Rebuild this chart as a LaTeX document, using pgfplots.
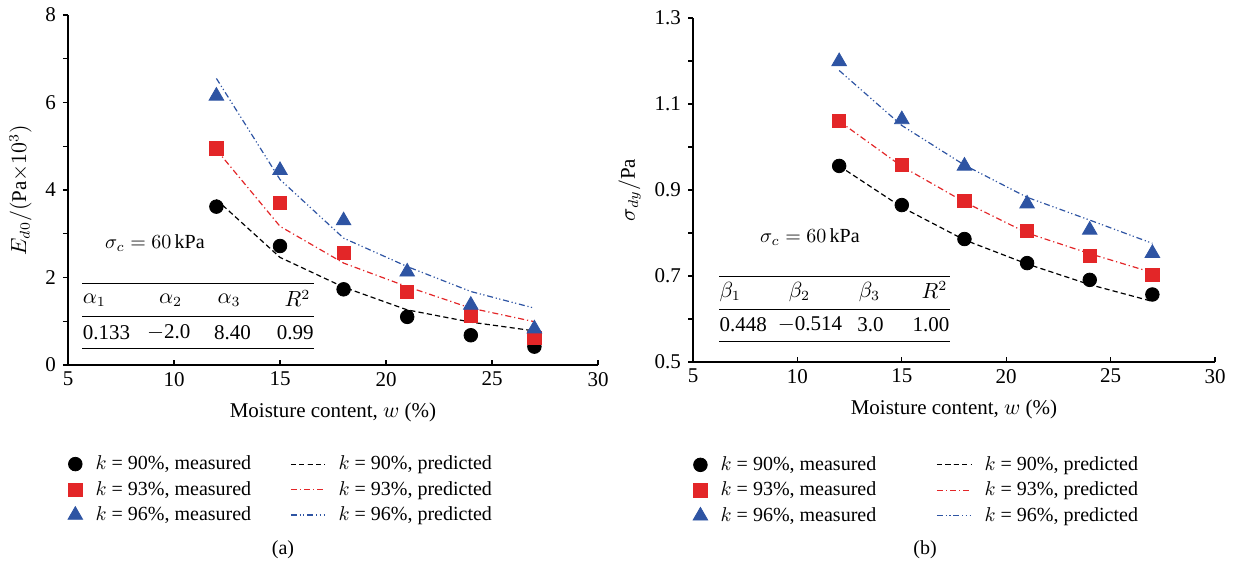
\documentclass[border=0pt]{standalone}
\usepackage{fontspec}
\setmainfont{Liberation Serif}
\usepackage{pgfplots}
\pgfplotsset{compat=1.18}
\definecolor{mred}{RGB}{227,38,40}
\definecolor{mblue}{RGB}{46,84,163}

\pgfplotsset{
  panel/.style={
    scale only axis,
    axis lines=left,
    axis line style={-, line width=0.7pt},
    xmin=5, xmax=30, xtick={5,10,...,30},
    xtick align=inside, ytick align=outside,
    major tick length=2.5pt, minor tick length=2.5pt,
    tick style={black, line width=0.6pt},
    /pgf/number format/assume math mode=true,
    tick label style={font=\fontsize{10.5}{12}\selectfont},
    label style={font=\fontsize{10.5}{12}\selectfont},
    xlabel={Moisture content, $w$ (\%)},
    xlabel style={yshift=-1.5pt},
    legend columns=3, transpose legend,
    legend cell align=left,
    legend style={draw=none, fill=none, font=\fontsize{10}{12.5}\selectfont,
      anchor=north west, row sep=0.3pt,
      /tikz/every odd column/.append style={column sep=4.5pt}},
    clip=false,
  },
  meas90/.style={only marks, mark=*, mark size=3.4pt, black},
  meas93/.style={only marks, mark=square*, mark size=3.3pt, mred},
  meas96/.style={only marks, mark=triangle*, mark size=4.2pt, mblue},
  pred90/.style={no marks, black, line width=0.6pt, dash pattern=on 2.6pt off 1.6pt},
  pred93/.style={no marks, mred, line width=0.6pt, dash pattern=on 3pt off 1.5pt on 0.6pt off 1.5pt},
  pred96/.style={no marks, mblue, line width=0.6pt, dash pattern=on 3pt off 1.4pt on 0.6pt off 1.2pt on 0.6pt off 1.4pt},
}

\begin{document}
\begin{tikzpicture}
\path (0,0) rectangle (617pt,284.5pt);

% ---------- (a) ----------
\begin{axis}[panel, at={(34pt,102pt)}, anchor=origin,
  width=265pt, height=175pt,
  ymin=0, ymax=8, ytick={0,2,...,8}, minor ytick={1,3,5,7},
  ylabel={$E_{d0}/(\mathrm{Pa}{\times}10^{3})$},
  legend style={at={(-0.012,-0.235)},
    /tikz/every even column/.append style={column sep=17.5pt}},
]
\addplot[meas90] coordinates {(12,3.62) (15,2.72) (18,1.73) (21,1.10) (24,0.68) (27,0.42)};
\addlegendentry{$k$ = 90\%, measured}
\addplot[meas93] coordinates {(12,4.95) (15,3.70) (18,2.57) (21,1.67) (24,1.12) (27,0.62)};
\addlegendentry{$k$ = 93\%, measured}
\addplot[meas96] coordinates {(12,6.15) (15,4.45) (18,3.30) (21,2.13) (24,1.37) (27,0.83)};
\addlegendentry{$k$ = 96\%, measured}
\addplot[pred90] coordinates {(12,3.78) (15,2.46) (18,1.78) (21,1.26) (24,0.98) (27,0.78)};
\addlegendentry{$k$ = 90\%, predicted}
\addplot[pred93] coordinates {(12,4.92) (15,3.17) (18,2.33) (21,1.79) (24,1.30) (27,0.99)};
\addlegendentry{$k$ = 93\%, predicted}
\addplot[pred96] coordinates {(12,6.55) (15,4.24) (18,2.90) (21,2.25) (24,1.68) (27,1.30)};
\addlegendentry{$k$ = 96\%, predicted}

\node[font=\fontsize{10}{12}\selectfont] at (axis cs:9.1,2.79) {$\sigma_c = 60\,\mathrm{kPa}$};
\draw[line width=0.6pt] (axis cs:5.68,1.87) -- (axis cs:16.6,1.87);
\draw[line width=0.6pt] (axis cs:5.68,1.10) -- (axis cs:16.6,1.10);
\draw[line width=0.6pt] (axis cs:5.68,0.37) -- (axis cs:16.6,0.37);
\begin{scope}[font=\fontsize{10.5}{12}\selectfont, inner sep=0pt]
\node[anchor=west] at (axis cs:5.68,1.48) {$\alpha_1$};
\node at (axis cs:9.84,1.48) {$\alpha_2$};
\node at (axis cs:12.6,1.48) {$\alpha_3$};
\node[anchor=east] at (axis cs:16.45,1.52) {$R^2$};
\node[anchor=west] at (axis cs:5.68,0.74) {0.133};
\node at (axis cs:9.75,0.74) {$-$2.0};
\node at (axis cs:12.76,0.74) {8.40};
\node[anchor=east] at (axis cs:16.6,0.74) {0.99};
\end{scope}
\end{axis}

% ---------- (b) ----------
\begin{axis}[panel, at={(346.5pt,103.5pt)}, anchor=origin,
  width=261pt, height=172pt,
  ymin=0.5, ymax=1.3, ytick={0.5,0.7,...,1.3}, minor ytick={0.6,0.8,1.0,1.2},
  yticklabel style={/pgf/number format/.cd, fixed, fixed zerofill, precision=1},
  ylabel={$\sigma_{dy}/\mathrm{Pa}$},
  legend style={at={(-0.012,-0.25)},
    /tikz/every even column/.append style={column sep=28pt}},
]
\addplot[meas90] coordinates {(12,0.956) (15,0.865) (18,0.786) (21,0.730) (24,0.691) (27,0.657)};
\addlegendentry{$k$ = 90\%, measured}
\addplot[meas93] coordinates {(12,1.061) (15,0.959) (18,0.875) (21,0.805) (24,0.746) (27,0.702)};
\addlegendentry{$k$ = 93\%, measured}
\addplot[meas96] coordinates {(12,1.199) (15,1.064) (18,0.956) (21,0.868) (24,0.807) (27,0.753)};
\addlegendentry{$k$ = 96\%, measured}
\addplot[pred90] coordinates {(12,0.956) (15,0.860) (18,0.784) (21,0.728) (24,0.680) (27,0.641)};
\addlegendentry{$k$ = 90\%, predicted}
\addplot[pred93] coordinates {(12,1.060) (15,0.955) (18,0.872) (21,0.800) (24,0.752) (27,0.708)};
\addlegendentry{$k$ = 93\%, predicted}
\addplot[pred96] coordinates {(12,1.178) (15,1.050) (18,0.958) (21,0.883) (24,0.830) (27,0.776)};
\addlegendentry{$k$ = 96\%, predicted}

\node[font=\fontsize{10}{12}\selectfont] at (axis cs:10.6,0.79) {$\sigma_c = 60\,\mathrm{kPa}$};
\draw[line width=0.6pt] (axis cs:6.25,0.698) -- (axis cs:17.3,0.698);
\draw[line width=0.6pt] (axis cs:6.25,0.623) -- (axis cs:17.3,0.623);
\draw[line width=0.6pt] (axis cs:6.25,0.547) -- (axis cs:17.3,0.547);
\begin{scope}[font=\fontsize{10.5}{12}\selectfont, inner sep=0pt]
\node[anchor=west] at (axis cs:6.25,0.663) {$\beta_1$};
\node at (axis cs:10.1,0.663) {$\beta_2$};
\node at (axis cs:13.45,0.663) {$\beta_3$};
\node[anchor=east] at (axis cs:17.2,0.668) {$R^2$};
\node[anchor=west] at (axis cs:6.25,0.587) {0.448};
\node at (axis cs:10.6,0.587) {$-$0.514};
\node at (axis cs:13.5,0.587) {3.0};
\node[anchor=east] at (axis cs:17.3,0.587) {1.00};
\end{scope}
\end{axis}

\node[font=\fontsize{10}{12}\selectfont] at (141.5pt,9.5pt) {(a)};
\node[font=\fontsize{10}{12}\selectfont] at (462.5pt,9.5pt) {(b)};
\end{tikzpicture}
\end{document}
